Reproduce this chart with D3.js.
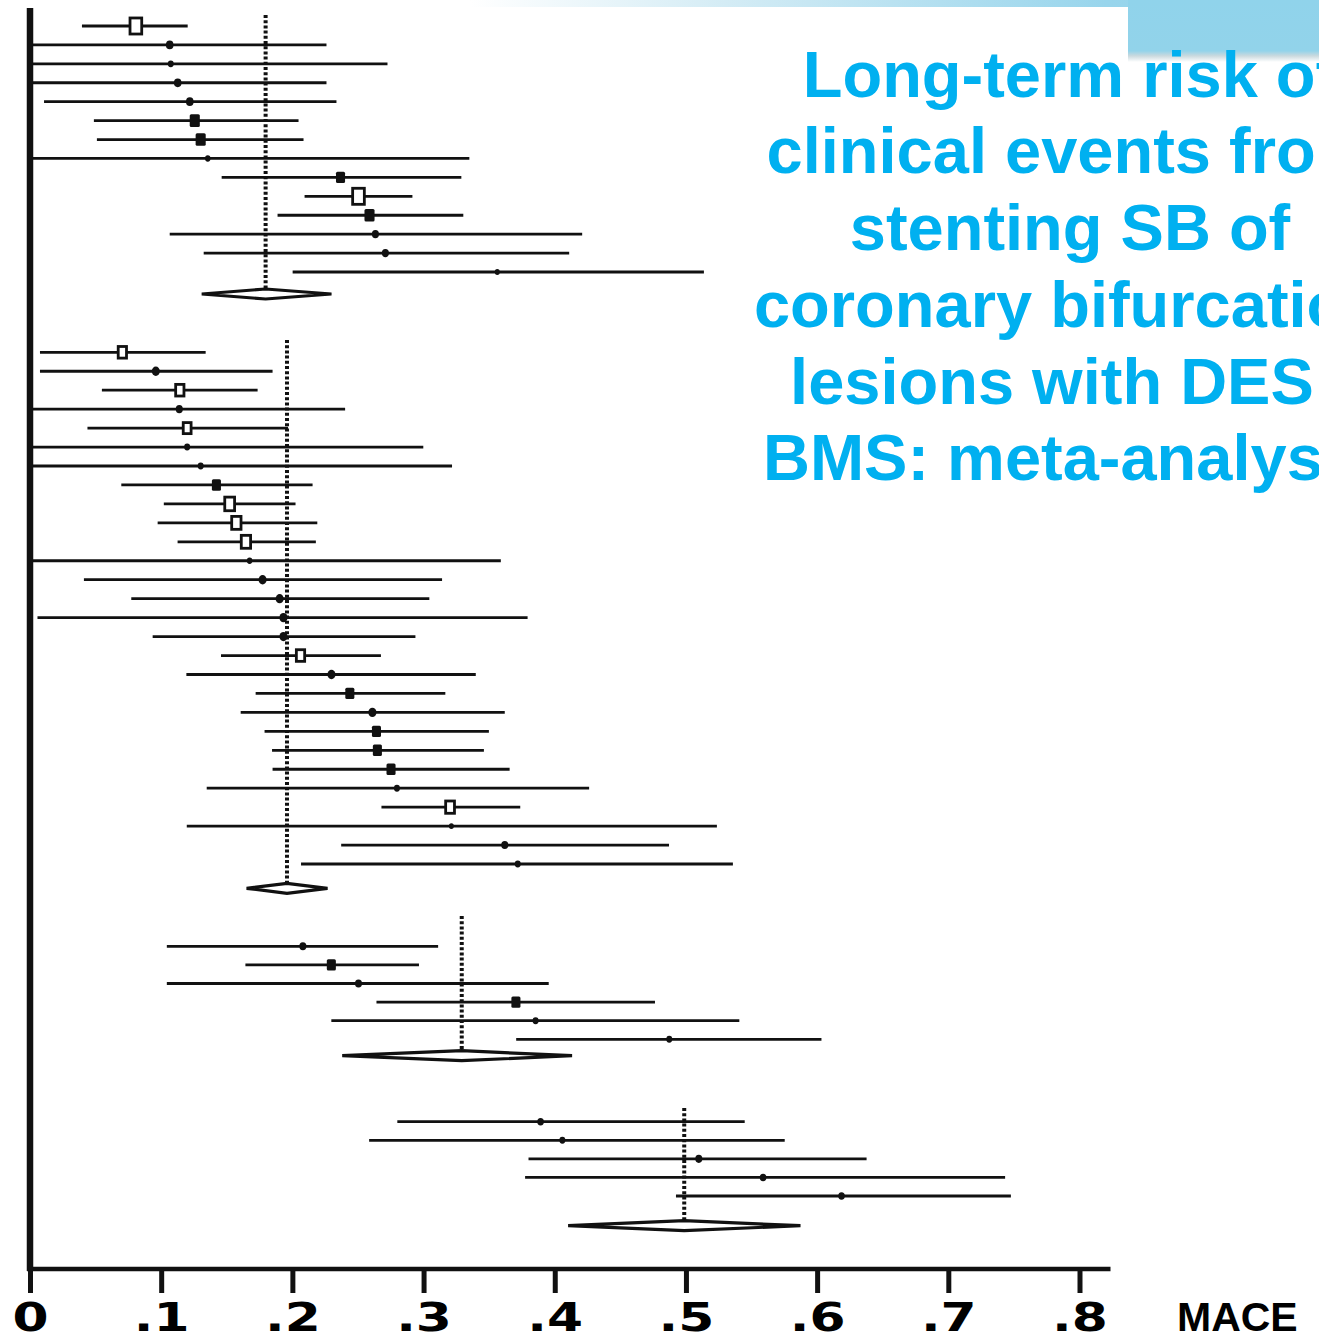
<!DOCTYPE html>
<html>
<head>
<meta charset="utf-8">
<script src="https://cdn.jsdelivr.net/npm/d3@7"></script>
<style>
  html, body { margin: 0; padding: 0; background: #fff; }
  svg { display: block; }
</style>
</head>
<body>
<div id="chart"></div>
<script>
// ---- Study-level MACE rates (point estimate, 95% CI bounds, relative weight) ----
// Subgroup 1
const g1Est = [0.0807, 0.1065, 0.1073, 0.1126, 0.1218, 0.1256, 0.1301, 0.1355, 0.2367, 0.2504, 0.2588, 0.2633, 0.2709, 0.3562];
const g1Lo  = [0.0396, 0.0000, 0.0000, 0.0000, 0.0107, 0.0487, 0.0510, 0.0000, 0.1461, 0.2093, 0.1887, 0.1065, 0.1324, 0.2002];
const g1Hi  = [0.1202, 0.2260, 0.2725, 0.2260, 0.2336, 0.2047, 0.2085, 0.3349, 0.3288, 0.2915, 0.3303, 0.4209, 0.4110, 0.5137];
const g1Wt  = [21.5, 5.9, 3.7, 5.9, 5.9, 10.4, 10.4, 3.1, 8.4, 21.5, 10.4, 5.1, 5.1, 2.6];

// Subgroup 2
const g2Est = [0.0704, 0.0959, 0.1142, 0.1138, 0.1198, 0.1198, 0.1301, 0.1421, 0.1522, 0.1573, 0.1646, 0.1674, 0.1773, 0.1903,
               0.1932, 0.1932, 0.2062, 0.2298, 0.2438, 0.2610, 0.2641, 0.2648, 0.2752, 0.2797, 0.3202, 0.3212, 0.3619, 0.3718];
const g2Lo  = [0.0076, 0.0076, 0.0548, 0.0000, 0.0438, 0.0000, 0.0000, 0.0696, 0.1020, 0.0973, 0.1125, 0.0000, 0.0411, 0.0772,
               0.0057, 0.0935, 0.1456, 0.1192, 0.1720, 0.1606, 0.1788, 0.1845, 0.1849, 0.1347, 0.2679, 0.1195, 0.2372, 0.2066];
const g2Hi  = [0.1339, 0.1849, 0.1735, 0.2402, 0.1967, 0.2998, 0.3217, 0.2154, 0.2024, 0.2190, 0.2179, 0.3589, 0.3141, 0.3044,
               0.3793, 0.2938, 0.2675, 0.3398, 0.3166, 0.3619, 0.3498, 0.3460, 0.3656, 0.4262, 0.3737, 0.5236, 0.4871, 0.5358];
const g2Wt  = [12.6, 6.7, 12.6, 5.1, 11.6, 3.7, 3.7, 8.4, 16.3, 15.0, 15.0, 3.1, 6.7, 6.7,
               6.7, 6.7, 12.6, 6.7, 8.4, 6.7, 8.4, 8.4, 8.4, 3.7, 13.8, 2.6, 5.1, 3.7];

// Subgroup 3
const g3Est = [0.2080, 0.2297, 0.2504, 0.3704, 0.3854, 0.4873];
const g3Lo  = [0.1043, 0.1642, 0.1043, 0.2641, 0.2297, 0.3706];
const g3Hi  = [0.3111, 0.2965, 0.3954, 0.4764, 0.5407, 0.6033];
const g3Wt  = [5.1, 8.4, 5.1, 8.4, 3.7, 3.7];

// Subgroup 4
const g4Est = [0.3892, 0.4058, 0.5098, 0.5588, 0.6186];
const g4Lo  = [0.2800, 0.2585, 0.3800, 0.3774, 0.4924];
const g4Hi  = [0.5448, 0.5753, 0.6377, 0.7433, 0.7477];
const g4Wt  = [4.4, 3.7, 5.1, 4.4, 4.4];

// Pooled (random-effects) estimate per subgroup
const pooledEst = [0.1796, 0.1959, 0.3291, 0.4987];
const pooledLo  = [0.1309, 0.1651, 0.2380, 0.4102];
const pooledHi  = [0.2298, 0.2268, 0.4132, 0.5873];

// Axis
const tickValues = [0, 0.1, 0.2, 0.3, 0.4, 0.5, 0.6, 0.7, 0.8];
const tickLabels = ["0", ".1", ".2", ".3", ".4", ".5", ".6", ".7", ".8"];
const axisTitle = "MACE";

// Slide heading
const titleLines = [
  "Long-term risk of",
  "clinical events from",
  "stenting SB of",
  "coronary bifurcation",
  "lesions with DES /",
  "BMS: meta-analysis"
];

// ---------------------------------------------------------------------------
const W = 1319, H = 1336;
const svg = d3.select("#chart").append("svg")
  .attr("width", W).attr("height", H)
  .attr("viewBox", `0 0 ${W} ${H}`);

svg.append("rect").attr("width", W).attr("height", H).attr("fill", "#fff");

// Slide header decoration: fading band along the top and a block at the right
const defs = svg.append("defs");
const bandGrad = defs.append("linearGradient").attr("id", "bandGrad")
  .attr("gradientUnits", "userSpaceOnUse")
  .attr("x1", 470).attr("y1", 0).attr("x2", 1319).attr("y2", 0);
bandGrad.append("stop").attr("offset", 0).attr("stop-color", "#ffffff");
bandGrad.append("stop").attr("offset", 0.3).attr("stop-color", "#d4ecf5");
bandGrad.append("stop").attr("offset", 0.75).attr("stop-color", "#98d5ec");
bandGrad.append("stop").attr("offset", 1).attr("stop-color", "#8fd2eb");

const blockGrad = defs.append("linearGradient").attr("id", "blockGrad")
  .attr("x1", 0).attr("y1", 0).attr("x2", 0).attr("y2", 1);
blockGrad.append("stop").attr("offset", 0).attr("stop-color", "#90d3eb");
blockGrad.append("stop").attr("offset", 0.82).attr("stop-color", "#92d3ea");
blockGrad.append("stop").attr("offset", 0.9).attr("stop-color", "#c9d9de");
blockGrad.append("stop").attr("offset", 1).attr("stop-color", "#ffffff");

svg.append("rect").attr("x", 0).attr("y", 0).attr("width", W).attr("height", 7)
  .attr("fill", "url(#bandGrad)");
svg.append("rect").attr("x", 1128).attr("y", 0).attr("width", W - 1128).attr("height", 62)
  .attr("fill", "url(#blockGrad)");

// Scales
const x = d3.scaleLinear().domain([0, 0.8]).range([30, 1079.5]);
const size = d3.scaleSqrt().domain([0, 21.5]).range([0, 14.5]);

const groups = [
  { est: g1Est, lo: g1Lo, hi: g1Hi, wt: g1Wt },
  { est: g2Est, lo: g2Lo, hi: g2Hi, wt: g2Wt },
  { est: g3Est, lo: g3Lo, hi: g3Hi, wt: g3Wt },
  { est: g4Est, lo: g4Lo, hi: g4Hi, wt: g4Wt }
];

// Vertical placement of each subgroup block
const layout = [
  { first: 26,    last: 272,    diamond: 294,    guideTop: 15 },
  { first: 352.3, last: 864,    diamond: 888.3,  guideTop: 340 },
  { first: 946.3, last: 1039.3, diamond: 1055.7, guideTop: 916 },
  { first: 1121.7,last: 1196,   diamond: 1225.7, guideTop: 1108 }
];

const ink = "#111";
const plot = svg.append("g").attr("class", "forest");

groups.forEach((g, gi) => {
  const L = layout[gi];
  const rows = g.est.map((e, i) => ({ est: e, lo: g.lo[i], hi: g.hi[i], wt: g.wt[i], i }));
  const y = d3.scaleLinear().domain([0, Math.max(1, rows.length - 1)]).range([L.first, L.last]);
  const grp = plot.append("g").attr("class", `subgroup-${gi + 1}`);

  // Dotted reference line at the pooled estimate
  grp.append("line")
    .attr("x1", x(pooledEst[gi])).attr("x2", x(pooledEst[gi]))
    .attr("y1", L.guideTop).attr("y2", L.diamond)
    .attr("stroke", ink).attr("stroke-width", 4)
    .attr("stroke-dasharray", "3 2.2");

  // Confidence intervals
  grp.selectAll("line.ci").data(rows).join("line")
    .attr("class", "ci")
    .attr("x1", d => x(d.lo)).attr("x2", d => x(d.hi))
    .attr("y1", d => y(d.i)).attr("y2", d => y(d.i))
    .attr("stroke", ink).attr("stroke-width", 2.8);

  // Weight-scaled study markers
  rows.forEach(d => {
    const s = size(d.wt);
    const cx = x(d.est), cy = y(d.i);
    if (s >= 10.5) {
      const h = s * 1.3;
      grp.append("rect")
        .attr("x", cx - s / 2 + 1.4).attr("y", cy - h / 2 + 1.4)
        .attr("width", s - 2.8).attr("height", h - 2.8)
        .attr("fill", "#fff").attr("stroke", ink).attr("stroke-width", 2.8);
    } else if (s >= 8.5) {
      const h = s * 1.25;
      grp.append("rect")
        .attr("x", cx - s / 2).attr("y", cy - h / 2)
        .attr("width", s).attr("height", h)
        .attr("rx", 1.5)
        .attr("fill", ink);
    } else {
      grp.append("ellipse")
        .attr("cx", cx).attr("cy", cy)
        .attr("rx", s / 2).attr("ry", s / 2 * 1.15)
        .attr("fill", ink);
    }
  });

  // Pooled diamond
  const dy = L.diamond, hh = 5;
  const pts = [
    [x(pooledLo[gi]), dy],
    [x(pooledEst[gi]), dy - hh],
    [x(pooledHi[gi]), dy],
    [x(pooledEst[gi]), dy + hh]
  ];
  grp.append("polygon")
    .attr("points", pts.map(p => p.join(",")).join(" "))
    .attr("fill", "#fff").attr("stroke", ink).attr("stroke-width", 3.2)
    .attr("stroke-linejoin", "miter");
});

// Axes
const axisY = 1269;
const xAxis = d3.axisBottom(x)
  .tickValues(tickValues)
  .tickFormat((d, i) => tickLabels[i])
  .tickSize(24)
  .tickSizeOuter(0);

const ax = svg.append("g").attr("transform", `translate(0,${axisY})`).call(xAxis);
ax.select(".domain").remove();
ax.selectAll(".tick line").attr("stroke", ink).attr("stroke-width", 5);
ax.selectAll(".tick text")
  .attr("y", 62).attr("dy", null)
  .attr("fill", "#000")
  .attr("font-family", "'DejaVu Sans', sans-serif")
  .attr("font-weight", "bold")
  .attr("font-size", 39)
  .attr("transform", "scale(1.33,1)");
ax.append("line")
  .attr("x1", x(0) - 3).attr("x2", x(0.8) + 31)
  .attr("y1", 0).attr("y2", 0)
  .attr("stroke", ink).attr("stroke-width", 4.5);

svg.append("line")
  .attr("x1", x(0)).attr("x2", x(0))
  .attr("y1", 8).attr("y2", axisY + 2)
  .attr("stroke", ink).attr("stroke-width", 6.5);

svg.append("text")
  .attr("x", 1177).attr("y", 1331)
  .attr("font-family", "'Liberation Sans', Arial, sans-serif")
  .attr("font-weight", "bold")
  .attr("font-size", 41)
  .attr("fill", "#000")
  .text(axisTitle);

// Heading
svg.append("g").selectAll("text").data(titleLines).join("text")
  .attr("x", 1070)
  .attr("y", (d, i) => 96.7 + i * 76.7)
  .attr("text-anchor", "middle")
  .attr("font-family", "'Liberation Sans', Arial, sans-serif")
  .attr("font-weight", "bold")
  .attr("font-size", 65)
  .attr("fill", "#00b0f0")
  .text(d => d);
</script>
</body>
</html>
